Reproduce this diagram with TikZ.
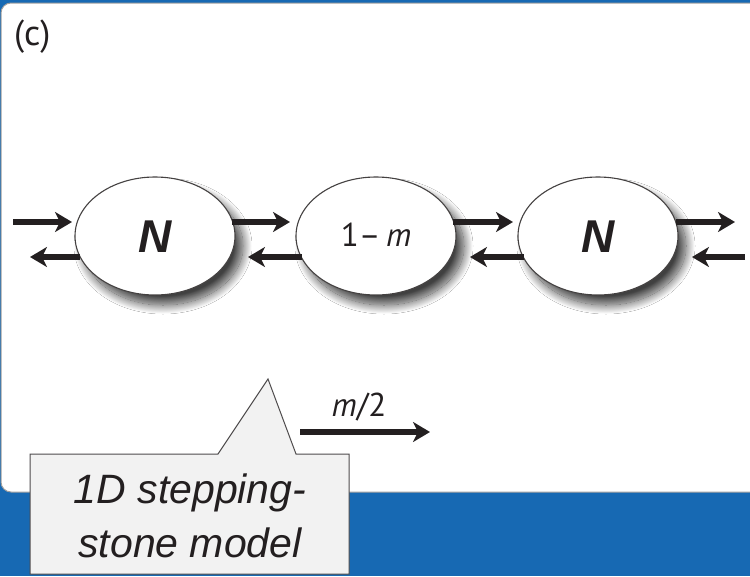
\documentclass[tikz,border=0pt]{standalone}
\usepackage{fontspec}
\setmainfont{Liberation Sans}
\newfontfamily\myr{PT Sans}
\usetikzlibrary{arrows.meta,shapes.geometric,shadows.blur,calc}
\definecolor{bgblue}{HTML}{1769B3}
\definecolor{ink}{HTML}{231F20}
\definecolor{callfill}{HTML}{F2F2F2}
\tikzset{
  x=1pt, y=-1pt,
  stone/.style={ellipse, draw=ink!85, line width=1.1pt, fill=white, minimum width=160pt, minimum height=118pt, inner sep=0pt,
    blur shadow={shadow xshift=8pt, shadow yshift=-10pt, shadow blur radius=9pt, shadow blur steps=25, shadow opacity=75}},
  flow/.style={draw=ink, line width=6pt, -{Stealth[length=17pt,width=20pt,inset=5pt]}},
  lbl/.style={text=ink, inner sep=0pt, anchor=base}
}
\begin{document}
\begin{tikzpicture}
\useasboundingbox (0,0) rectangle (750,576);
\clip (0,0) rectangle (750,576);
\fill[bgblue] (0,0) rectangle (750,576);
\filldraw[fill=white, draw=gray!75, line width=1pt, rounded corners=10pt] (1,3) rectangle (775,492);
\node[lbl, anchor=base west, font=\myr\fontsize{36}{40}\selectfont] (tag) at (14,45) {(c)};
% stones
\node[stone] (e1) at (155,236) {};
\node[stone] (e2) at (376,236) {};
\node[stone] (e3) at (598,236) {};
\node[lbl, font=\bfseries\itshape\fontsize{46}{50}\selectfont] (n1) at (155,252) {N};
\node[lbl, font=\myr\fontsize{33}{36}\selectfont] (n2) at (376,246) {1–\,\textit{m}};
\node[lbl, font=\bfseries\itshape\fontsize{46}{50}\selectfont] (n3) at (598,252) {N};
% arrows
\draw[flow] ($(e1.center)+(-142,-14)$) coordinate (a1) -- ($(e1.center)+(-83,-14)$);
\draw[flow] ($(e1.center)+(-75,21)$) -- ($(e1.center)+(-125,21)$) coordinate (a2);
\draw[flow] ($(e1.center)+(77,-14)$) -- ($(e2.center)+(-86,-14)$);
\draw[flow] ($(e2.center)+(-74,21)$) -- ($(e1.center)+(93,21)$);
\draw[flow] ($(e2.center)+(77,-14)$) -- ($(e3.center)+(-85,-14)$);
\draw[flow] ($(e3.center)+(-74,21)$) -- ($(e2.center)+(94,21)$);
\draw[flow] ($(e3.center)+(78,-14)$) -- ($(e3.center)+(137,-14)$) coordinate (a3);
\draw[flow] ($(e3.center)+(147,21)$) coordinate (a4) -- ($(e3.center)+(94,21)$);
% legend arrow
\coordinate (m0) at (300,432);
\coordinate (m1) at (430,432);
\draw[flow] (m0) -- (m1);
\node[lbl, font=\myr\fontsize{33}{36}\selectfont] (mlab) at (359,416) {\textit{m}/2};
% callout
\filldraw[fill=callfill, draw=ink!80, line width=1pt]
  (30,454) -- (218,454) -- (268,379) -- (296,454) -- (349,454) -- (349,574) -- (30,574) -- cycle;
\node[lbl, font=\itshape\fontsize{41}{54}\selectfont] (call) at (190,503) {1D stepping-};
\node[lbl, font=\itshape\fontsize{41}{54}\selectfont] (call2) at (190,557) {stone model};
\end{tikzpicture}
\end{document}
